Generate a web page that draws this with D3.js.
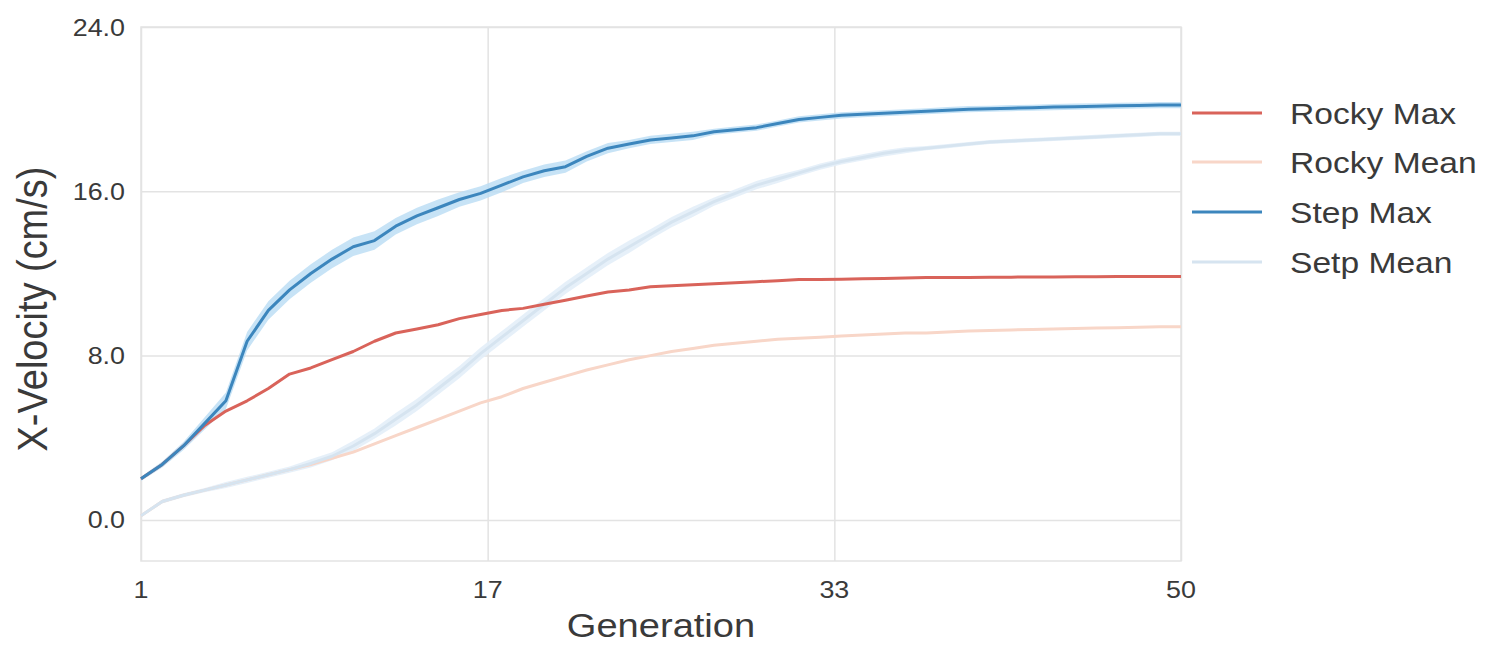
<!DOCTYPE html>
<html>
<head>
<meta charset="utf-8">
<script src="https://cdn.jsdelivr.net/npm/d3@7"></script>
<style>
  html, body { margin: 0; padding: 0; background: #ffffff; }
  svg { display: block; font-family: "Liberation Sans", Arial, sans-serif; }
</style>
</head>
<body>
<svg id="chart" width="1488" height="649"></svg>
<script>
// ---------- data ----------
const generations = [1,2,3,4,5,6,7,8,9,10,11,12,13,14,15,16,17,18,19,20,21,22,23,24,25,
  26,27,28,29,30,31,32,33,34,35,36,37,38,39,40,41,42,43,44,45,46,47,48,49,50];

const rockyMax = [2.0,2.7,3.6,4.6,5.3,5.8,6.4,7.1,7.4,7.8,8.2,8.7,9.1,9.3,9.5,9.8,10.0,10.2,10.3,10.5,
  10.7,10.9,11.1,11.2,11.35,11.4,11.45,11.5,11.55,11.6,11.65,11.7,11.7,11.72,11.74,11.76,11.78,11.8,11.8,11.8,
  11.82,11.82,11.83,11.83,11.84,11.84,11.85,11.85,11.85,11.85];

const rockyMean = [0.2,0.9,1.2,1.45,1.7,1.95,2.2,2.45,2.7,3.0,3.3,3.7,4.1,4.5,4.9,5.3,5.7,6.0,6.4,6.7,
  7.0,7.3,7.55,7.8,8.0,8.2,8.35,8.5,8.6,8.7,8.8,8.85,8.9,8.95,9.0,9.05,9.1,9.1,9.15,9.2,
  9.22,9.25,9.27,9.3,9.32,9.34,9.36,9.38,9.4,9.4];

const stepMax = [2.0,2.7,3.6,4.7,5.8,8.7,10.2,11.2,12.0,12.7,13.3,13.6,14.3,14.8,15.2,15.6,15.9,16.3,16.7,17.0,
  17.2,17.7,18.1,18.3,18.5,18.6,18.7,18.9,19.0,19.1,19.3,19.5,19.6,19.7,19.75,19.8,19.85,19.9,19.95,20.0,
  20.02,20.05,20.07,20.1,20.12,20.14,20.16,20.18,20.2,20.2];

const stepMean = [0.2,0.9,1.2,1.45,1.7,1.95,2.2,2.45,2.75,3.1,3.6,4.2,4.9,5.6,6.4,7.2,8.1,8.9,9.7,10.5,
  11.3,12.0,12.7,13.3,13.9,14.5,15.0,15.5,15.9,16.3,16.6,16.9,17.2,17.45,17.65,17.85,18.0,18.1,18.2,18.3,
  18.4,18.45,18.5,18.55,18.6,18.65,18.7,18.75,18.8,18.8];

// half-width of the shaded confidence bands
const stepMaxSpread = [0.1,0.15,0.2,0.3,0.4,0.45,0.45,0.45,0.45,0.45,0.45,0.45,0.4,0.4,0.4,0.35,0.35,0.35,0.3,0.3,
  0.3,0.25,0.25,0.2,0.2,0.2,0.2,0.15,0.15,0.15,0.15,0.15,0.15,0.15,0.15,0.15,0.15,0.15,0.15,0.15,
  0.15,0.15,0.15,0.15,0.15,0.15,0.15,0.15,0.15,0.15];
const stepMeanSpread = [0.05,0.1,0.1,0.1,0.15,0.15,0.15,0.15,0.2,0.2,0.25,0.25,0.3,0.3,0.3,0.3,0.3,0.3,0.3,0.3,
  0.3,0.3,0.3,0.3,0.25,0.25,0.25,0.2,0.2,0.2,0.2,0.15,0.15,0.15,0.15,0.15,0.15,0.1,0.1,0.1,
  0.1,0.1,0.1,0.1,0.1,0.1,0.1,0.1,0.1,0.1];

const seriesNames = ["Rocky Max", "Rocky Mean", "Step Max", "Setp Mean"];
const seriesColors = ["#d9635a", "#f8d6c8", "#3c86bd", "#d6e4f0"];

const yTicks = [0, 8, 16, 24];
const yTickLabels = ["0.0", "8.0", "16.0", "24.0"];
const xTicks = [1, 17.333, 33.667, 50];
const xTickLabels = ["1", "17", "33", "50"];

// ---------- drawing ----------
const svg = d3.select("#chart");
const SX = 1.12; // horizontal stretch of the reference text
const textColor = "#3a3a3a";

const x = d3.scaleLinear().domain([1, 50]).range([141, 1181]);
const y = d3.scaleLinear().domain([-2, 24]).range([561, 27]);

const gridColor = "#e3e3e3";

// frame
svg.append("rect")
  .attr("x", x(1)).attr("y", y(24))
  .attr("width", x(50) - x(1)).attr("height", y(-2) - y(24))
  .attr("fill", "none").attr("stroke", gridColor).attr("stroke-width", 1.5);

// gridlines via axes
const yAxis = d3.axisLeft(y).tickValues(yTicks).tickSize(-(x(50) - x(1))).tickFormat("");
const gy = svg.append("g").attr("transform", `translate(${x(1)},0)`).call(yAxis);
gy.select(".domain").remove();
gy.selectAll("line").attr("stroke", gridColor).attr("stroke-width", 1.5);

const xAxis = d3.axisBottom(x).tickValues(xTicks).tickSize(-(y(-2) - y(24))).tickFormat("");
const gx = svg.append("g").attr("transform", `translate(0,${y(-2)})`).call(xAxis);
gx.select(".domain").remove();
gx.selectAll("line").attr("stroke", gridColor).attr("stroke-width", 1.5);

// tick labels
function stretchedText(parent, tx, ty, str, anchor, size) {
  return parent.append("text")
    .attr("transform", `translate(${tx},${ty}) scale(${SX},1)`)
    .attr("text-anchor", anchor)
    .attr("font-size", size)
    .attr("fill", textColor)
    .text(str);
}
yTicks.forEach((t, i) => {
  stretchedText(svg, 125, y(t) + 8.5, yTickLabels[i], "end", 24);
});
xTicks.forEach((t, i) => {
  stretchedText(svg, x(t), 598, xTickLabels[i], "middle", 24);
});

// axis titles
stretchedText(svg, 661, 637, "Generation", "middle", 34);
svg.append("text")
  .attr("transform", `translate(47,309) scale(${SX},1) rotate(-90)`)
  .attr("text-anchor", "middle")
  .attr("font-size", 38)
  .attr("fill", textColor)
  .text("X-Velocity (cm/s)");

// bands
const area = (vals, spread) => d3.area()
  .x((d, i) => x(generations[i]))
  .y0((d, i) => y(vals[i] - spread[i]))
  .y1((d, i) => y(vals[i] + spread[i]))
  .curve(d3.curveLinear)(vals);

svg.append("path").attr("d", area(stepMean, stepMeanSpread))
  .attr("fill", "#e3eef8").attr("opacity", 0.9);
svg.append("path").attr("d", area(stepMax, stepMaxSpread))
  .attr("fill", "#b9dcf4").attr("opacity", 0.8);

// lines
const line = d3.line().x((d, i) => x(generations[i])).y(d => y(d));
const allSeries = [rockyMean, stepMean, rockyMax, stepMax];
const order = [1, 3, 0, 2];
allSeries.forEach((vals, k) => {
  svg.append("path")
    .attr("d", line(vals))
    .attr("fill", "none")
    .attr("stroke", seriesColors[order[k]])
    .attr("stroke-width", 3)
    .attr("stroke-linejoin", "round");
});

// legend
const legendY = [113, 162, 212, 262];
seriesNames.forEach((name, i) => {
  svg.append("line")
    .attr("x1", 1192).attr("x2", 1262)
    .attr("y1", legendY[i]).attr("y2", legendY[i])
    .attr("stroke", seriesColors[i]).attr("stroke-width", 3);
  stretchedText(svg, 1290, legendY[i] + 11, name, "start", 30);
});
</script>
</body>
</html>
